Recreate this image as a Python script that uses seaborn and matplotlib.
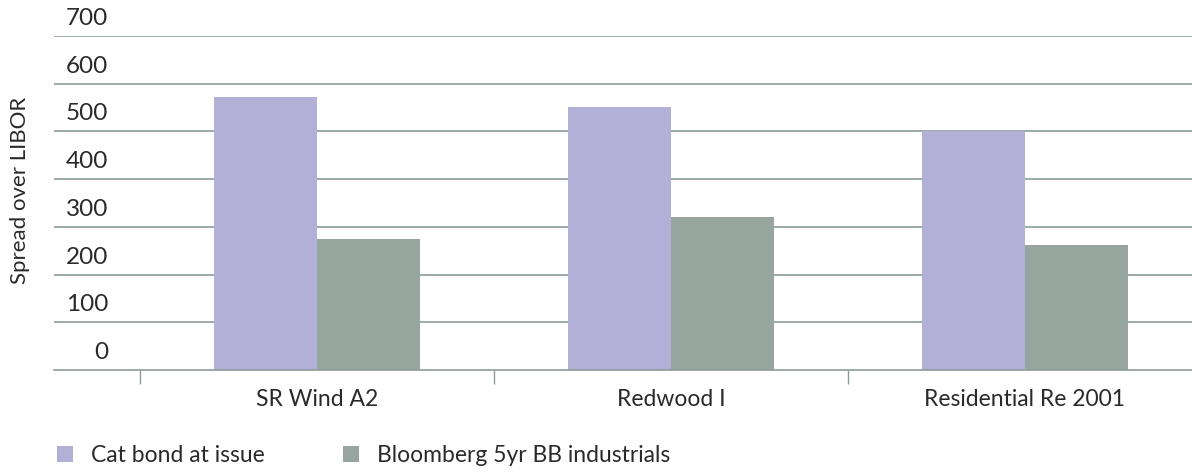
import matplotlib
matplotlib.use("Agg")
import matplotlib.pyplot as plt
import matplotlib.transforms as mtransforms
import seaborn as sns
import pandas as pd

categories = ["SR Wind A2", "Redwood I", "Residential Re 2001"]
series_names = ["Cat bond at issue", "Bloomberg 5yr BB industrials"]
cat_bond = [572, 551, 500]
bloomberg = [274, 320, 261]
y_ticks = [0, 100, 200, 300, 400, 500, 600, 700]
y_label = "Spread over LIBOR"

colors = ["#b2b0d6", "#97a59f"]
grid_color = "#8c9c98"
text_color = "#2a2a2a"

df = pd.DataFrame({
    "category": categories * 2,
    "series": [series_names[0]] * 3 + [series_names[1]] * 3,
    "value": cat_bond + bloomberg,
})

sns.set_theme(style="white")
plt.rcParams["font.family"] = ["Lato", "DejaVu Sans"]

fig = plt.figure(figsize=(11.92, 4.72), dpi=100)
ax = fig.add_axes([54 / 1192, 1 - 370 / 472, 1 - 54 / 1192, (370 - 36) / 472])

sns.barplot(data=df, x="category", y="value", hue="series", order=categories,
            hue_order=series_names, palette=colors, width=0.58, gap=0,
            saturation=1, edgecolor="none", linewidth=0, ax=ax, legend=True, zorder=3)

ax.set_ylim(0, 700)
ax.set_xlim(-0.743, 2.472)

for s in ["top", "right", "left"]:
    ax.spines[s].set_visible(False)
ax.spines["bottom"].set_color(grid_color)
ax.spines["bottom"].set_linewidth(1.2)
ax.spines["bottom"].set_zorder(4)

# gridlines
for v in y_ticks[1:]:
    ax.axhline(v, color=grid_color, lw=1.2, zorder=1)
ax.set_yticks([])
ax.set_ylabel("")

# y tick labels above gridlines
trans = mtransforms.blended_transform_factory(ax.transAxes, ax.transData)
offset = mtransforms.ScaledTranslation(0, 5 / 72, fig.dpi_scale_trans)
for v in y_ticks:
    ax.text(54 / (1192 - 54), v, str(v), transform=trans + offset, ha="right",
            va="bottom", fontsize=17.5, color=text_color)

fig.text(20 / 1192, 1 - 190 / 472, y_label, rotation=90, ha="center", va="center",
         fontsize=16, color=text_color)

# x ticks: boundaries as major ticks, labels as minor ticks
ax.set_xticks([-0.5, 0.5, 1.5])
ax.set_xticklabels([])
ax.set_xticks(range(len(categories)), minor=True)
ax.set_xticklabels(categories, minor=True, fontsize=16.5, color=text_color)
ax.tick_params(axis="x", which="major", direction="out", length=10, width=1, color=grid_color, bottom=True)
ax.tick_params(axis="x", which="minor", length=0, pad=14, bottom=True)
ax.set_xlabel("")

leg = ax.legend(loc="lower left", bbox_to_anchor=(46 / 1192, -0.012), bbox_transform=fig.transFigure,
                ncol=2, frameon=False, fontsize=16.5, handlelength=0.68, handleheight=0.68,
                handletextpad=0.8, columnspacing=3.4, borderaxespad=0.1)
for t in leg.get_texts():
    t.set_color(text_color)

fig.savefig("out.png", dpi=100)
